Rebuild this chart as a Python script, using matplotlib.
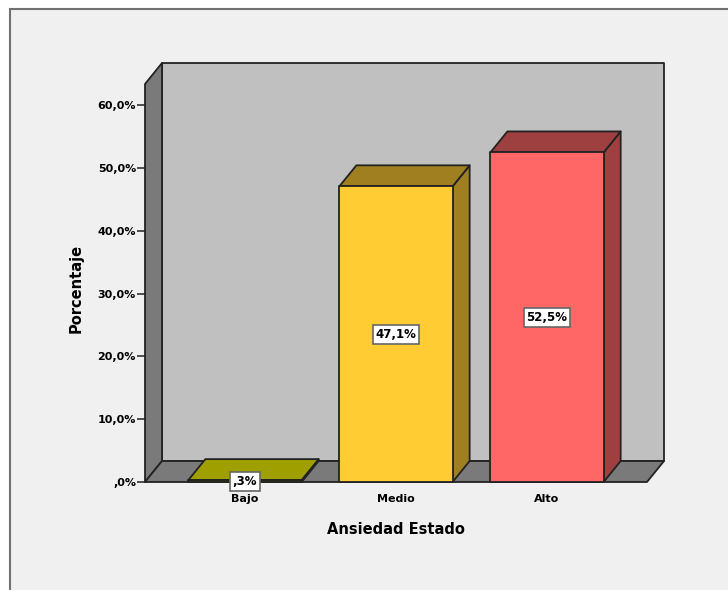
#!/usr/bin/env python3
import matplotlib
matplotlib.use('Agg')
import matplotlib.pyplot as plt
from matplotlib.patches import Polygon, Rectangle

categories = ['Bajo', 'Medio', 'Alto']
percentages = [0.3, 47.1, 52.5]
value_labels = [',3%', '47,1%', '52,5%']
y_ticks = [0, 10, 20, 30, 40, 50, 60]
y_tick_labels = [',0%', '10,0%', '20,0%', '30,0%', '40,0%', '50,0%', '60,0%']

front_colors = ['#5f5f00', '#ffcc33', '#ff6666']
top_colors = ['#9f9f00', '#9f7f20', '#9f4040']
side_colors = ['#5f5f00', '#9f7f20', '#9f4040']

W, H = 728, 590
BAR_WIDTH = 0.75
X_MIN, X_MAX = -0.662, 2.662
Y_MAX = 63.4
DX = 17 / 151   # depth offset, x units
DY = 21 / 6.28  # depth offset, y units
EDGE = '#222222'
TEXT = '#000000'

fig = plt.figure(figsize=(W / 100, H / 100), dpi=100, facecolor='white')
plt.rcParams['font.family'] = 'DejaVu Sans'

# panel frame, has to sit under the axes
fig.add_artist(Rectangle((10 / W, -0.05), 1, 1 - 9 / H + 0.05, transform=fig.transFigure,
                         facecolor='#f0f0f0', edgecolor='#707070', linewidth=1.5, zorder=-1))

ax = fig.add_axes([145 / W, 1 - 482 / H, (647 - 145) / W, (482 - 84) / H])
ax.set_xlim(X_MIN, X_MAX)
ax.set_ylim(0, Y_MAX)
ax.patch.set_visible(False)
for spine in ax.spines.values():
    spine.set_visible(False)


def poly(points, color, zorder):
    ax.add_patch(Polygon(points, closed=True, facecolor=color, edgecolor=EDGE,
                         linewidth=1.3, joinstyle='round', clip_on=False, zorder=zorder))


# walls and floor
poly([(X_MIN + DX, DY), (X_MAX + DX, DY), (X_MAX + DX, Y_MAX + DY), (X_MIN + DX, Y_MAX + DY)], '#c0c0c0', 1)
poly([(X_MIN, 0), (X_MIN + DX, DY), (X_MIN + DX, Y_MAX + DY), (X_MIN, Y_MAX)], '#7a7a7a', 2)
poly([(X_MIN, 0), (X_MAX, 0), (X_MAX + DX, DY), (X_MIN + DX, DY)], '#7a7a7a', 2)

# bars, one box each
for i, value in enumerate(percentages):
    x0 = i - BAR_WIDTH / 2
    x1 = i + BAR_WIDTH / 2
    poly([(x1, 0), (x1 + DX, DY), (x1 + DX, value + DY), (x1, value)], side_colors[i], 3)
    poly([(x0, value), (x1, value), (x1 + DX, value + DY), (x0 + DX, value + DY)], top_colors[i], 3)
    poly([(x0, 0), (x1, 0), (x1, value), (x0, value)], front_colors[i], 4)
    ax.text(i, value / 2, value_labels[i], ha='center', va='center', fontsize=8.5,
            fontweight='bold', color=TEXT, zorder=6, clip_on=False,
            bbox=dict(boxstyle='square,pad=0.25', facecolor='white', edgecolor='#666666', linewidth=1.2))

ax.set_xticks(range(len(categories)))
ax.set_xticklabels(categories, fontsize=8, fontweight='bold', color=TEXT)
ax.tick_params(axis='x', length=0, pad=9)
ax.set_yticks(y_ticks)
ax.set_yticklabels(y_tick_labels, fontsize=8, fontweight='bold', color=TEXT)
ax.tick_params(axis='y', length=6, width=1.2, color='#333333', pad=0.5)

ax.set_xlabel('Ansiedad Estado', fontsize=10.5, fontweight='bold', color=TEXT, labelpad=12.5)
ax.set_ylabel('Porcentaje', fontsize=10.5, fontweight='bold', color=TEXT, labelpad=10, y=0.487)

fig.savefig('out.png', dpi=100, facecolor=fig.get_facecolor())
